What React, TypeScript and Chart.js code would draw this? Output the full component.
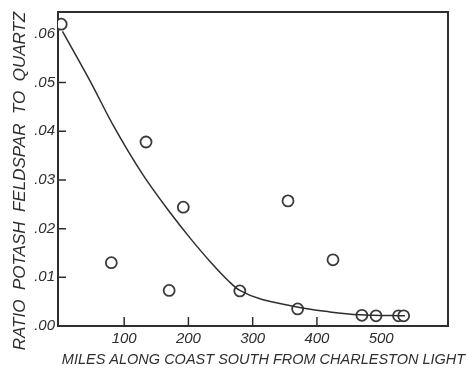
import React, { useEffect, useRef } from "react";
import { Chart, registerables } from "chart.js";

Chart.register(...registerables);

// Sample points (miles, ratio)
const sampleMiles = [2, 80, 134, 170, 192, 280, 355, 370, 425, 470, 492, 527, 535];
const sampleRatio = [0.062, 0.013, 0.0378, 0.0073, 0.0244, 0.0072, 0.0257, 0.0035, 0.0136, 0.0022, 0.0021, 0.0021, 0.0021];

// Hand-drawn trend curve
const curveMiles = [4, 47, 83, 128, 172, 203, 234, 262, 280, 369, 420, 467, 537];
const curveRatio = [0.0605, 0.0503, 0.0412, 0.0313, 0.0232, 0.018, 0.0132, 0.0093, 0.0073, 0.0039, 0.0029, 0.0023, 0.0021];

const xTickValues = [100, 200, 300, 400, 500];
const yTickValues = [0, 0.01, 0.02, 0.03, 0.04, 0.05, 0.06];
const xInnerTicks = [100, 200, 300, 400];
const yInnerTicks = [0.01, 0.02, 0.03, 0.04, 0.05];

const xTitle = "MILES ALONG COAST SOUTH FROM CHARLESTON LIGHT";
const yTitle = "RATIO  POTASH  FELDSPAR  TO  QUARTZ";

const INK = "#2e2e2e";
const FONT = "Liberation Sans";

const framePlugin = {
  id: "frame",
  afterDraw(chart: any) {
    const { ctx, chartArea, scales } = chart;
    const { left, right, top, bottom } = chartArea;
    ctx.save();
    ctx.strokeStyle = INK;
    ctx.lineWidth = 2;
    ctx.beginPath();
    ctx.moveTo(left, top);
    ctx.lineTo(right, top);
    ctx.lineTo(right, bottom);
    ctx.stroke();
    ctx.lineWidth = 1.5;
    ctx.beginPath();
    for (const v of xInnerTicks) {
      const px = scales.x.getPixelForValue(v);
      ctx.moveTo(px, bottom);
      ctx.lineTo(px, bottom - 9);
    }
    for (const v of yInnerTicks) {
      const py = scales.y.getPixelForValue(v);
      ctx.moveTo(left, py);
      ctx.lineTo(left + 8, py);
    }
    ctx.stroke();

    // axis titles
    ctx.fillStyle = INK;
    ctx.textAlign = "center";
    ctx.textBaseline = "middle";
    ctx.font = `italic 14.5px "${FONT}"`;
    ctx.fillText(xTitle, 263.5, 360);
    ctx.translate(20, 181);
    ctx.rotate(-Math.PI / 2);
    ctx.font = `italic 17px "${FONT}"`;
    ctx.fillText(yTitle, 0, 0);
    ctx.restore();
  },
};

export default function App() {
  const ref = useRef<HTMLCanvasElement>(null);
  useEffect(() => {
    if (!ref.current) return;
    const chart = new Chart(ref.current, {
      type: "scatter",
      data: {
        datasets: [
          {
            type: "line",
            data: curveMiles.map((x, i) => ({ x, y: curveRatio[i] })),
            borderColor: INK,
            borderWidth: 1.5,
            pointRadius: 0,
            cubicInterpolationMode: "monotone",
            fill: false,
          } as any,
          {
            data: sampleMiles.map((x, i) => ({ x, y: sampleRatio[i] })),
            pointRadius: 5.5,
            pointBorderWidth: 1.8,
            pointBorderColor: "#3a3a3a",
            pointBackgroundColor: "#ffffff",
          },
        ],
      },
      options: {
        animation: false,
        responsive: false,
        layout: { padding: { top: 11, right: 19, left: 0, bottom: 0 } },
        plugins: { legend: { display: false }, tooltip: { enabled: false } },
        scales: {
          x: {
            type: "linear",
            min: -3,
            max: 604,
            afterBuildTicks: (s: any) => {
              s.ticks = xTickValues.map((value) => ({ value }));
            },
            afterFit: (s: any) => {
              s.height = 45;
            },
            grid: { display: false, drawTicks: false },
            border: { display: true, color: INK, width: 2 },
            ticks: {
              color: INK,
              padding: 4,
              maxRotation: 0,
              font: { family: FONT, size: 15, style: "italic" },
              callback: (v: any) => String(v),
            },
          },
          y: {
            type: "linear",
            min: 0,
            max: 0.0645,
            afterBuildTicks: (s: any) => {
              s.ticks = yTickValues.map((value) => ({ value }));
            },
            afterFit: (s: any) => {
              s.width = 58;
            },
            grid: { display: false, drawTicks: false },
            border: { display: true, color: INK, width: 2 },
            ticks: {
              color: INK,
              padding: 3,
              font: { family: FONT, size: 15, style: "italic" },
              callback: (v: any) => "." + String(Math.round(Number(v) * 100)).padStart(2, "0"),
            },
          },
        },
      } as any,
      plugins: [framePlugin],
    });
    return () => chart.destroy();
  }, []);
  return (
    <div style={{ position: "fixed", left: 0, top: 0, width: 467, height: 371, background: "#fff" }}>
      <canvas ref={ref} width={467} height={371} />
    </div>
  );
}
